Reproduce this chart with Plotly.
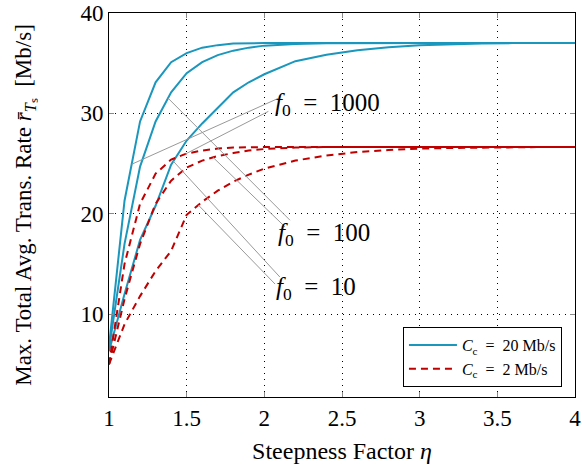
import numpy as np
import plotly.graph_objects as go

# Steepness factor samples
eta = [1.0, 1.1, 1.2, 1.3, 1.4, 1.5, 1.6, 1.7, 1.8, 1.9, 2.0,
       2.2, 2.4, 2.6, 2.8, 3.0, 3.2, 3.4, 3.6, 3.8, 4.0]

# C_c = 20 Mb/s, f0 = 1000 / 100 / 10
rate_20_f1000 = [6.8, 21.3, 29.2, 33.1, 35.1, 36.0, 36.55, 36.8, 36.95, 37.0, 37.0,
                 37.0, 37.0, 37.0, 37.0, 37.0, 37.0, 37.0, 37.0, 37.0, 37.0]
rate_20_f100 = [6.5, 17.0, 24.7, 29.2, 32.1, 34.0, 35.1, 35.8, 36.25, 36.55, 36.75,
                36.92, 36.98, 37.0, 37.0, 37.0, 37.0, 37.0, 37.0, 37.0, 37.0]
rate_20_f10 = [6.3, 12.0, 17.4, 20.8, 24.9, 27.3, 29.0, 30.6, 32.1, 33.1, 33.9,
               35.2, 35.85, 36.3, 36.6, 36.8, 36.9, 36.97, 37.0, 37.0, 37.0]

# C_c = 2 Mb/s, f0 = 1000 / 100 / 10
rate_2_f1000 = [5.0, 15.0, 21.0, 24.0, 25.4, 26.0, 26.3, 26.5, 26.6, 26.65, 26.65,
                26.65, 26.65, 26.65, 26.65, 26.65, 26.65, 26.65, 26.65, 26.65, 26.65]
rate_2_f100 = [5.0, 11.5, 17.0, 21.0, 23.3, 24.6, 25.3, 25.75, 26.05, 26.3, 26.45,
               26.6, 26.65, 26.65, 26.65, 26.65, 26.65, 26.65, 26.65, 26.65, 26.65]
rate_2_f10 = [5.0, 9.0, 11.8, 14.3, 16.3, 19.9, 21.2, 22.3, 23.2, 23.9, 24.5,
              25.3, 25.8, 26.15, 26.35, 26.5, 26.55, 26.6, 26.65, 26.65, 26.65]

x_ticks = [1, 1.5, 2, 2.5, 3, 3.5, 4]
x_tick_text = ["1", "1.5", "2", "2.5", "3", "3.5", "4"]
y_ticks = [10, 20, 30, 40]

BLUE = "#1b96bd"
RED = "#c00000"
SERIF = "Liberation Serif, Times New Roman, serif"

fig = go.Figure()

blue_sets = [rate_20_f1000, rate_20_f100, rate_20_f10]
red_sets = [rate_2_f1000, rate_2_f100, rate_2_f10]

for i, ys in enumerate(blue_sets):
    fig.add_trace(go.Scatter(
        x=eta, y=ys, mode="lines",
        line=dict(color=BLUE, width=2),
        name="<i>C</i><sub>c</sub>  =  20 Mb/s",
        legendgroup="c20", showlegend=(i == 0)))

for i, ys in enumerate(red_sets):
    fig.add_trace(go.Scatter(
        x=eta, y=ys, mode="lines",
        line=dict(color=RED, width=2, dash="7px,5px"),
        name="<i>C</i><sub>c</sub>  =  2 Mb/s",
        legendgroup="c2", showlegend=(i == 0)))

# Leader lines from curves to the f0 labels
def leader(series, at, x_end, y_end):
    y_start = float(np.interp(at, eta, series))
    fig.add_shape(type="line", x0=at, y0=y_start, x1=x_end, y1=y_end,
                  xref="x", yref="y", line=dict(color="#999999", width=1))

leader(rate_20_f1000, 1.146, 2.09, 31.5)
leader(rate_2_f1000, 1.49, 2.026, 30.2)
leader(rate_20_f100, 1.38, 2.165, 19.36)
leader(rate_2_f100, 1.67, 2.133, 18.7)
leader(rate_20_f10, 1.414, 2.10, 13.7)
leader(rate_2_f10, 1.575, 2.069, 13.0)

labels = [("1000", 2.055, 30.9), ("100", 2.075, 17.9), ("10", 2.06, 12.6)]
for txt, lx, ly in labels:
    fig.add_annotation(x=lx, y=ly, xref="x", yref="y",
                       text="<i>f</i><sub>0</sub>  =  " + txt,
                       showarrow=False, xanchor="left", yanchor="middle",
                       font=dict(family=SERIF, size=25, color="black"))

axis_common = dict(
    showline=True, linecolor="black", linewidth=1, mirror="ticks",
    ticks="inside", ticklen=5, tickcolor="#8a8a8a",
    showgrid=True, gridcolor="black", gridwidth=1, griddash="1px,5px",
    zeroline=False, automargin=False,
    tickfont=dict(family=SERIF, size=23, color="black"),
)

fig.update_xaxes(range=[1, 4], tickvals=x_ticks, ticktext=x_tick_text,
                 title=dict(text="Steepness Factor <i>η</i>",
                            font=dict(family=SERIF, size=24, color="black"),
                            standoff=12),
                 **axis_common)
fig.update_yaxes(range=[1.75, 40], tickvals=y_ticks,
                 title=dict(text="Max. Total Avg. Trans. Rate <i>r̄</i><sub><i>T</i>ₛ</sub>  [Mb/s]",
                            font=dict(family=SERIF, size=23, color="black"),
                            standoff=42),
                 **axis_common)

fig.update_layout(
    width=582, height=465,
    margin=dict(l=109, r=7, t=13, b=68),
    paper_bgcolor="white", plot_bgcolor="white",
    showlegend=True,
    legend=dict(x=0.972, y=0.182, xanchor="right", yanchor="top",
                bgcolor="white", bordercolor="black", borderwidth=1,
                font=dict(family=SERIF, size=16, color="black"),
                tracegroupgap=0, itemwidth=48),
)

fig.write_html("out.html")
